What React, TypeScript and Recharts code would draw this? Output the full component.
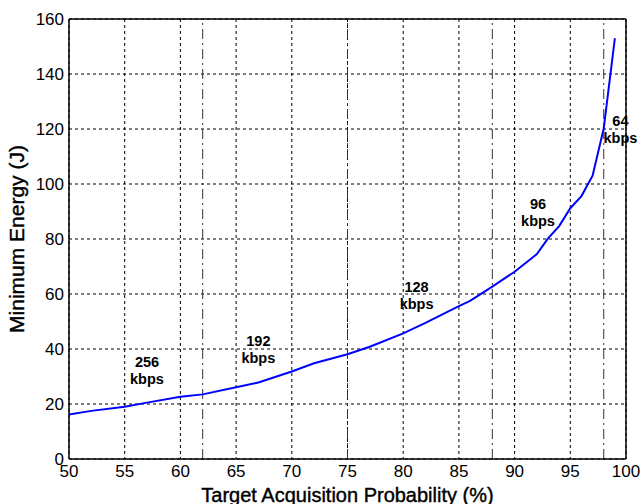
import { CartesianGrid, Label, Line, LineChart, ReferenceDot, ReferenceLine, XAxis, YAxis } from "recharts"

const probability = [50, 52, 55, 57, 60, 62, 65, 67, 70, 72, 75, 77, 80, 82, 85, 86, 88, 90, 92, 93, 94, 95, 96, 97, 98, 99]
const energy = [16.2, 17.5, 19.0, 20.5, 22.6, 23.5, 26.1, 27.8, 31.8, 34.8, 38.1, 40.8, 45.7, 49.5, 55.6, 57.5, 62.7, 68.1, 74.5, 80.2, 84.7, 91.2, 95.6, 103, 120.2, 153]

const xTicks = [50, 55, 60, 65, 70, 75, 80, 85, 90, 95, 100]
const yTicks = [0, 20, 40, 60, 80, 100, 120, 140, 160]

// rate switch points (dash-dot lines)
const switchPoints = [62, 75, 88, 98]

const rateLabels = ["256", "192", "128", "96", "64"]
const rateLabelX = [57, 67, 81.2, 92.1, 99.5]
const rateLabelY = [32.4, 40, 59.6, 90, 120]

const data = probability.map((p, i) => ({ p, e: energy[i] }))

const font = "'Liberation Sans', Arial, Helvetica, sans-serif"

function RateText({ cx, cy, rate }: { cx?: number; cy?: number; rate: string }) {
  if (cx == null || cy == null) return null
  return (
    <g fontFamily={font} fontWeight="bold" fontSize={14.5} fill="#000" textAnchor="middle">
      <text x={cx} y={cy - 3}>{rate}</text>
      <text x={cx} y={cy + 14}>kbps</text>
    </g>
  )
}

export default function App() {
  return (
    <div style={{ position: "absolute", left: 0, top: 0, width: 642, height: 504, background: "#fff" }}>
      <LineChart width={642} height={504} data={data} margin={{ top: 19, right: 16, bottom: 0, left: 0 }}>
        <CartesianGrid stroke="#000" strokeDasharray="3 3" />
        <XAxis
          dataKey="p"
          type="number"
          domain={[50, 100]}
          ticks={xTicks}
          height={45}
          tickLine={false}
          tickSize={0}
          tickMargin={6}
          axisLine={{ stroke: "#000", strokeWidth: 1.5 }}
          tick={{ fill: "#000", fontSize: 17, fontFamily: font }}
        >
          <Label
            value="Target Acquisition Probability (%)"
            position="insideBottom"
            offset={2}
            style={{ fill: "#000", fontSize: 20, fontFamily: font, stroke: "#000", strokeWidth: 0.4 }}
          />
        </XAxis>
        <YAxis
          type="number"
          domain={[0, 160]}
          ticks={yTicks}
          width={69}
          tickLine={false}
          tickSize={0}
          tickMargin={5}
          axisLine={{ stroke: "#000", strokeWidth: 1.5 }}
          tick={{ fill: "#000", fontSize: 17, fontFamily: font }}
        >
          <Label
            value="Minimum Energy (J)"
            angle={-90}
            position="insideLeft"
            offset={17}
            style={{ textAnchor: "middle", fill: "#000", fontSize: 21, fontFamily: font, stroke: "#000", strokeWidth: 0.4 }}
          />
        </YAxis>
        <ReferenceLine y={160} stroke="#000" strokeWidth={1.5} />
        <ReferenceLine x={100} stroke="#000" strokeWidth={1.5} />
        {switchPoints.map((x) => (
          <ReferenceLine key={x} x={x} stroke="#333" strokeDasharray="10 4 2 4" />
        ))}
        <Line
          dataKey="e"
          type="linear"
          stroke="#0000ff"
          strokeWidth={2}
          dot={false}
          isAnimationActive={false}
        />
        {rateLabels.map((rate, i) => (
          <ReferenceDot
            key={rate}
            x={rateLabelX[i]}
            y={rateLabelY[i]}
            r={0}
            ifOverflow="visible"
            shape={(props: any) => <RateText cx={props.cx} cy={props.cy} rate={rate} />}
          />
        ))}
      </LineChart>
    </div>
  )
}
